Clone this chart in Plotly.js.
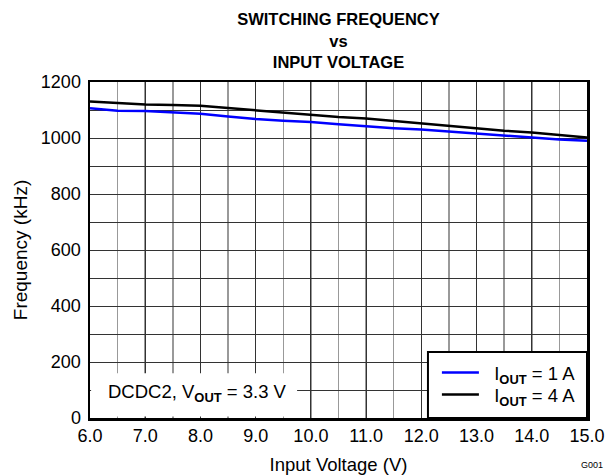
<!DOCTYPE html>
<html><head><meta charset="utf-8">
<script src="https://cdn.plot.ly/plotly-3.0.1.min.js"></script>
<style>body{margin:0;padding:0;background:#fff}</style>
</head><body>
<div id="chart" style="width:609px;height:475px"></div>
<script>
const vin = [6.0, 6.5, 7.0, 7.5, 8.0, 8.5, 9.0, 9.5, 10.0, 10.5, 11.0, 11.5, 12.0, 12.5, 13.0, 13.5, 14.0, 14.5, 15.0];
const freq1A = [1106, 1097, 1096, 1092, 1087, 1077, 1068, 1062, 1057, 1049, 1041, 1035, 1030, 1023, 1014, 1008, 1002, 995, 990];
const freq4A = [1130, 1124, 1120, 1118, 1115, 1107, 1099, 1090, 1082, 1075, 1070, 1061, 1052, 1043, 1033, 1026, 1020, 1011, 1002];
const xTickVals = [6, 7, 8, 9, 10, 11, 12, 13, 14, 15];
const xTickText = ['6.0', '7.0', '8.0', '9.0', '10.0', '11.0', '12.0', '13.0', '14.0', '15.0'];
const seriesNames = ['I<sub><b>OUT</b></sub> = 1 A', 'I<sub><b>OUT</b></sub> = 4 A'];

const F = 'Liberation Sans, Arial, sans-serif';
const NB = '\u00a0\u00a0';
const traces = [
  {x: vin, y: freq1A, mode: 'lines', name: NB + seriesNames[0], legend: 'legend', line: {color: '#0000ff', width: 2.5}},
  {x: vin, y: freq4A, mode: 'lines', name: NB + seriesNames[1], legend: 'legend2', line: {color: '#000000', width: 2.5}}
];
const legendBase = {x: 0.698, xanchor: 'left', yanchor: 'middle', bgcolor: 'rgba(0,0,0,0)',
                    borderwidth: 0, font: {family: F, size: 18.5}, itemwidth: 37};
const layout = {
  width: 609, height: 475,
  margin: {l: 90, r: 22, t: 82, b: 57},
  paper_bgcolor: '#fff', plot_bgcolor: '#fff',
  font: {family: F, size: 18, color: '#000'},
  title: {text: '<b>SWITCHING FREQUENCY</b><br><b>vs</b><br><b>INPUT VOLTAGE</b>',
          font: {family: F, size: 16.5, color: '#000'},
          xref: 'paper', x: 0.5, xanchor: 'center', yref: 'container', y: 0.947, yanchor: 'top'},
  xaxis: {range: [6, 15], tickvals: xTickVals, ticktext: xTickText, ticks: '',
          showgrid: true, gridcolor: '#333', gridwidth: 1,
          minor: {dtick: 0.5, tick0: 6, showgrid: true, gridcolor: '#999', gridwidth: 1.5, ticks: ''},
          showline: true, linecolor: '#000', linewidth: 2.5, mirror: true, zeroline: false,
          title: {text: 'Input Voltage (V)', font: {family: F, size: 18.5}, standoff: 16},
          tickfont: {family: F, size: 18}, fixedrange: true},
  yaxis: {range: [0, 1200], dtick: 200, tick0: 0, ticks: '',
          showgrid: true, gridcolor: '#333', gridwidth: 1,
          minor: {dtick: 100, showgrid: true, gridcolor: '#333', gridwidth: 1, ticks: ''},
          showline: true, linecolor: '#000', linewidth: 2.5, mirror: true, zeroline: false,
          ticklabelstandoff: 3,
          title: {text: 'Frequency (kHz)', font: {family: F, size: 19}, standoff: 8},
          tickfont: {family: F, size: 18}, fixedrange: true},
  showlegend: true,
  legend: Object.assign({}, legendBase, {y: 0.134}),
  legend2: Object.assign({}, legendBase, {y: 0.0685}),
  shapes: [
    {type: 'rect', xref: 'x', yref: 'y', x0: 6.02, x1: 9.75, y0: 5, y1: 160,
     fillcolor: '#fff', line: {width: 0}, layer: 'between'},
    {type: 'rect', xref: 'x', yref: 'y', x0: 12.12, x1: 15, y0: 0, y1: 236,
     fillcolor: '#fff', line: {color: '#000', width: 2}, layer: 'between'}
  ],
  annotations: [
    {xref: 'x', yref: 'y', x: 7.94, y: 88, text: 'DCDC2, V<sub><b>OUT</b></sub> = 3.3 V',
     showarrow: false, font: {family: F, size: 18.5, color: '#000'}},
    {xref: 'paper', yref: 'paper', x: 1.036, y: -0.14, xanchor: 'right', yanchor: 'middle',
     text: 'G001', showarrow: false, font: {family: F, size: 9, color: '#000'}}
  ]
};
Plotly.newPlot('chart', traces, layout, {displayModeBar: false, staticPlot: true});
</script>
</body></html>
